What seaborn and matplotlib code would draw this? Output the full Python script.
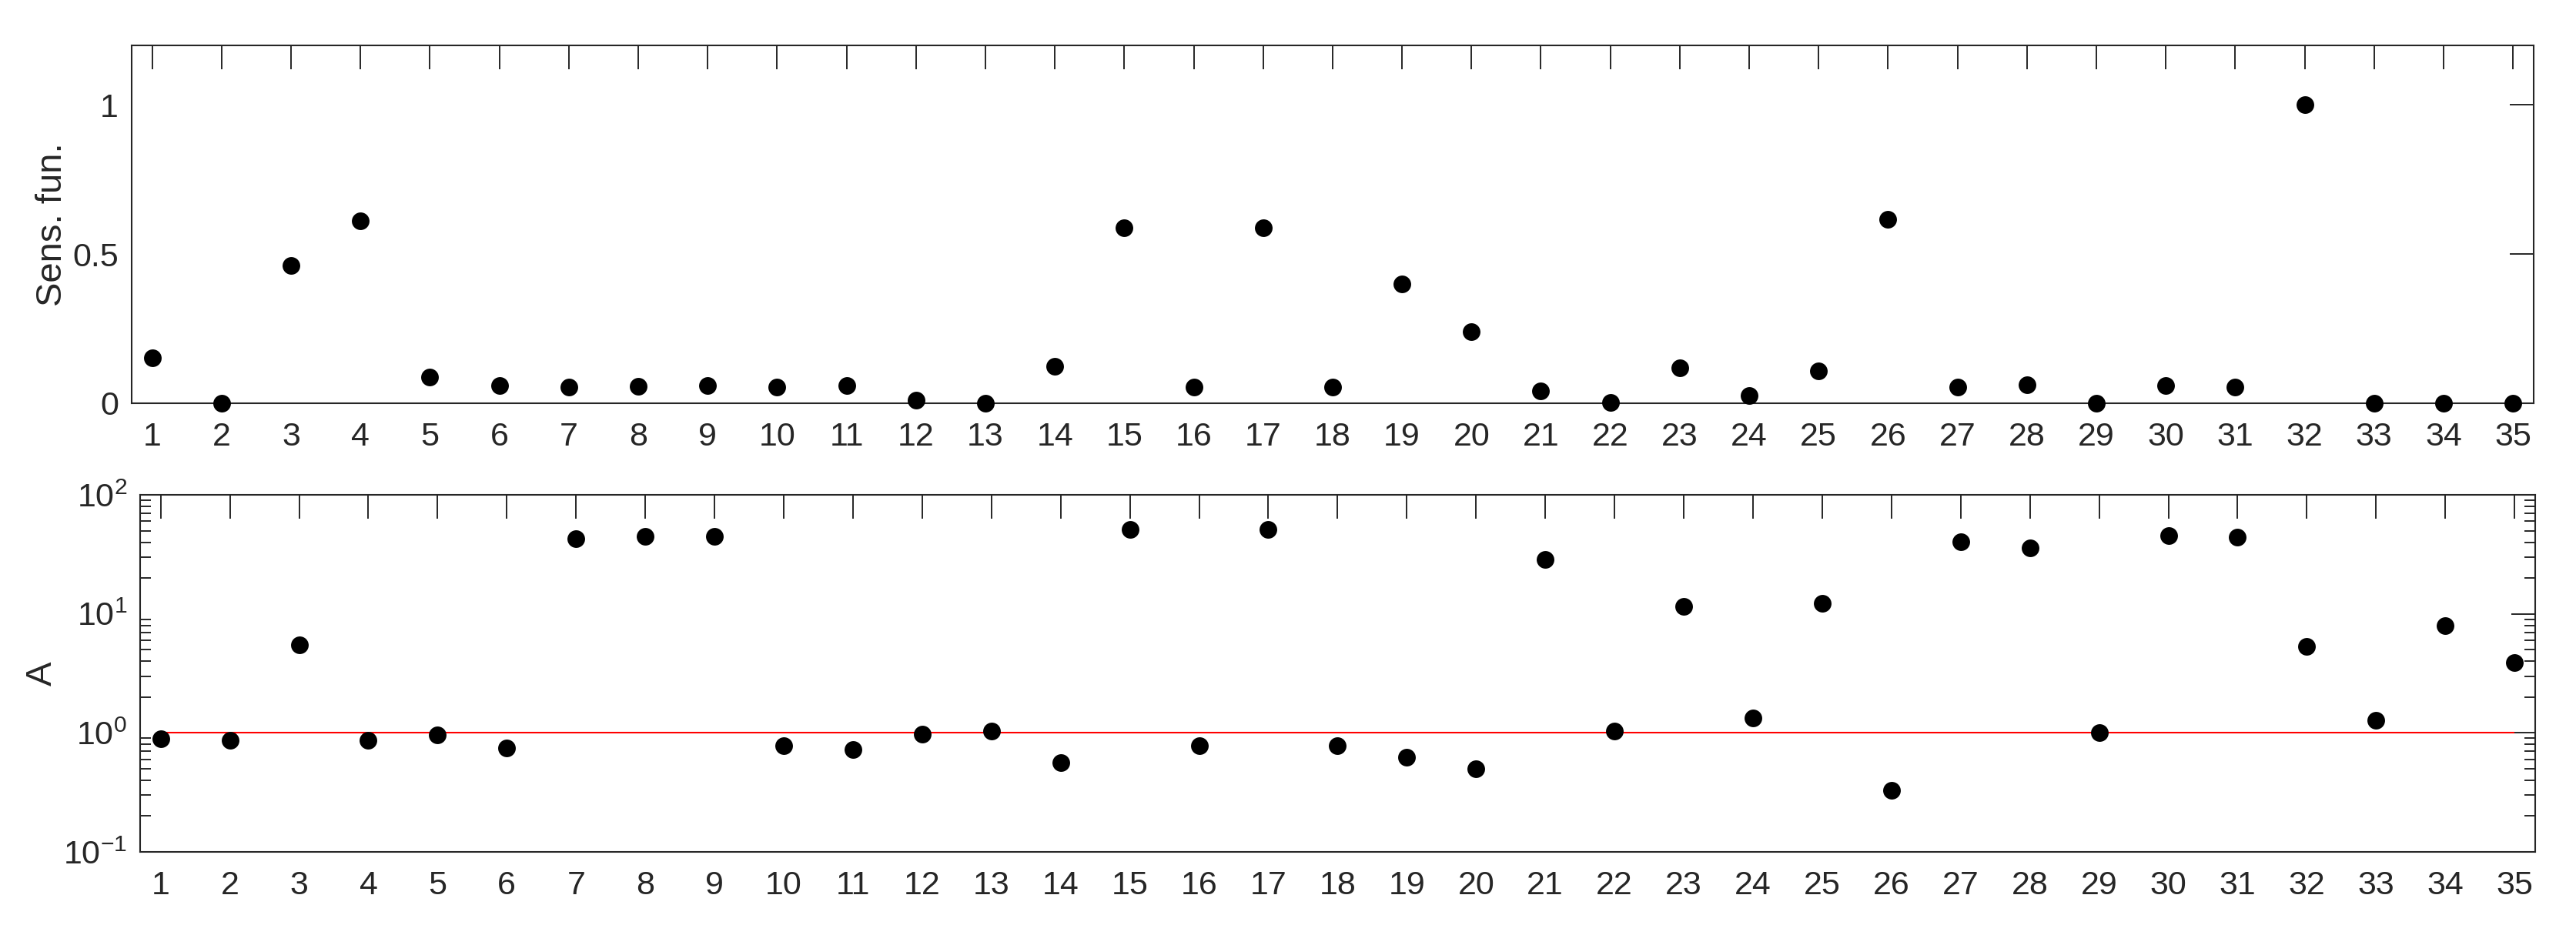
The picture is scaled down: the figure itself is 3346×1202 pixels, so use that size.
import matplotlib
matplotlib.use('Agg')
import matplotlib.pyplot as plt
import numpy as np
import pandas as pd
import seaborn as sns
from matplotlib.ticker import LogLocator, NullFormatter

# data
idx = list(range(1, 36))
sens_fun = [0.153, 0.0, 0.462, 0.611, 0.088, 0.058, 0.053, 0.056, 0.06, 0.053,
            0.06, 0.01, 0.0, 0.125, 0.587, 0.053, 0.587, 0.053, 0.40, 0.24,
            0.042, 0.003, 0.119, 0.025, 0.108, 0.617, 0.053, 0.062, 0.0, 0.059,
            0.055, 1.0, 0.0, 0.0, 0.0]
amp = [0.89, 0.87, 5.46, 0.87, 0.955, 0.75, 43, 45, 45, 0.78,
       0.73, 0.97, 1.03, 0.56, 51, 0.78, 51, 0.78, 0.62, 0.50,
       28.7, 1.03, 11.5, 1.33, 12.2, 0.33, 40.6, 35.8, 1.0, 45.8,
       44, 5.3, 1.27, 8.0, 3.9]
ref_level = 1.0
sens_ticks = [0, 0.5, 1]
sens_ticklabels = ['0', '0.5', '1']

df = pd.DataFrame({'idx': idx, 'sens': sens_fun, 'amp': amp})

sns.set_style('white')
plt.rcParams['font.family'] = ['Liberation Sans', 'DejaVu Sans']
plt.rcParams['mathtext.fontset'] = 'custom'
plt.rcParams['mathtext.rm'] = 'Liberation Sans'
plt.rcParams['mathtext.it'] = 'Liberation Sans:italic'
plt.rcParams['mathtext.bf'] = 'Liberation Sans:bold'

dark = '#262626'

fig = plt.figure(figsize=(33.46, 12.02), dpi=100)
ax1 = fig.add_axes([0.0510, 0.5641, 0.9326, 0.3869])
ax2 = fig.add_axes([0.0543, 0.0790, 0.9299, 0.3860])

# top panel: sensitivity function
sns.scatterplot(data=df, x='idx', y='sens', ax=ax1, color='black', s=272,
                linewidth=0, clip_on=False, zorder=3)
ax1.set_xlim(0.7, 35.3)
ax1.set_ylim(0, 1.2)
ax1.set_yticks(sens_ticks)
ax1.set_yticklabels(sens_ticklabels)
ax1.set_ylabel('Sens. fun.', fontsize=34, color=dark)
ax1.yaxis.set_label_coords(-0.0259, 0.5)

# bottom panel: A on log scale with reference line
ax2.set_yscale('log')
ax2.hlines(ref_level, idx[0], idx[-1], colors='red', lw=1.5, zorder=2)
sns.scatterplot(data=df, x='idx', y='amp', ax=ax2, color='black', s=272,
                linewidth=0, clip_on=False, zorder=3)
ax2.set_xlim(0.7, 35.3)
ax2.set_ylim(0.1, 100)
ax2.yaxis.set_major_locator(LogLocator(base=10, numticks=10))
ax2.yaxis.set_minor_locator(LogLocator(base=10, subs=np.arange(2, 10), numticks=20))
ax2.yaxis.set_minor_formatter(NullFormatter())
ax2.set_ylabel('A', fontsize=34, color=dark)
ax2.yaxis.set_label_coords(-0.0336, 0.5)

for ax in (ax1, ax2):
    ax.set_xticks(idx)
    ax.set_xlabel('')
    for sp in ax.spines.values():
        sp.set_visible(True)
        sp.set_linewidth(1.5)
        sp.set_color(dark)
    ax.tick_params(which='major', direction='in', top=True, right=True,
                   length=22, width=1.4, color=dark, labelcolor=dark,
                   labelsize=31)
    ax.tick_params(which='minor', direction='in', left=True, right=True,
                   length=10, width=1.4, color=dark)
    ax.tick_params(axis='x', pad=17)
    ax.tick_params(axis='y', pad=12)

fig.savefig('out.png', dpi=100)
